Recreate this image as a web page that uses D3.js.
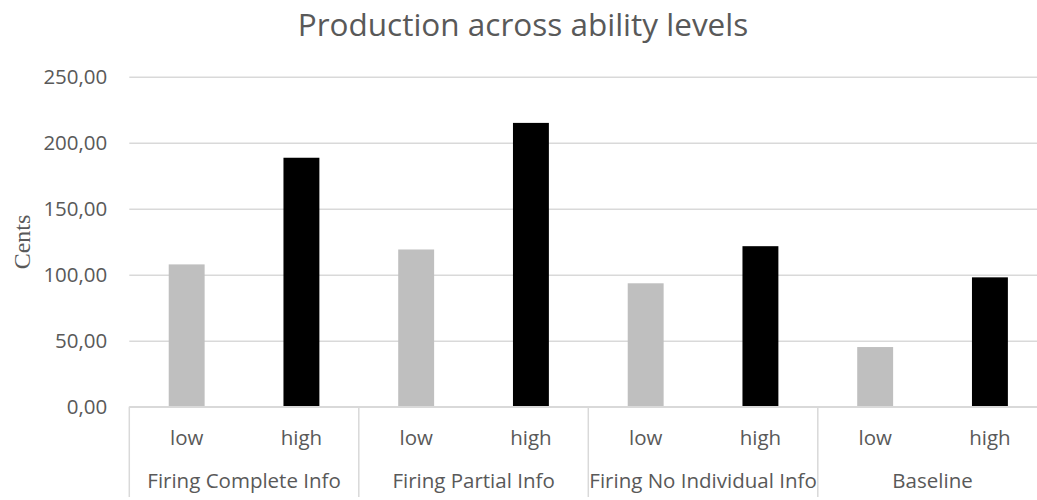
<!DOCTYPE html>
<html>
<head>
<meta charset="utf-8">
<script src="https://cdn.jsdelivr.net/npm/d3@7"></script>
<style>
  html, body { margin: 0; padding: 0; background: #fff; overflow: hidden; }
  svg { display: block; }
  text { font-family: "Open Sans", Lato, sans-serif; fill: #595959; }
</style>
</head>
<body>
<svg id="chart" width="1037" height="500"></svg>
<script>
// Treatments (outer axis level) and ability levels (inner axis level)
const groups = ["Firing Complete Info", "Firing Partial Info", "Firing No Individual Info", "Baseline"];
const levels = ["low", "high"];
// Mean production in cents, one value per treatment
const lowValues  = [107.8, 119.1, 93.5, 45.2];
const highValues = [188.6, 215.0, 121.6, 98.0];
const yTicks = [0, 50, 100, 150, 200, 250];
const title = "Production across ability levels";
const yLabel = "Cents";

const svg = d3.select("#chart");
const plotLeft = 129.3, groupW = 229.5;
const plotTop = 76.7, plotBottom = 406.7, axisBottom = 497;

const x0 = d3.scaleBand().domain(groups).range([plotLeft, plotLeft + groupW * groups.length]).padding(0);
const x1 = d3.scaleBand().domain(levels).range([0, x0.bandwidth()])
  .paddingInner(0.687).paddingOuter(0.3435);
const y = d3.scaleLinear().domain([0, 250]).range([plotBottom, plotTop]);
const fmt = v => d3.format(".2f")(v).replace(".", ",");
const color = { low: "#BFBFBF", high: "#000000" };

// Gridlines and value labels
const yAxis = d3.axisLeft(y).tickValues(yTicks).tickFormat(fmt).tickSize(-(1037 - plotLeft)).tickPadding(22);
const gy = svg.append("g").attr("transform", `translate(${plotLeft},0)`).call(yAxis);
gy.select(".domain").remove();
gy.selectAll(".tick line").attr("stroke", "#D9D9D9").attr("stroke-width", 1.5);
gy.selectAll(".tick text").style("font-size", "20.5px").attr("fill", "#595959")
  .style("font-family", "'Open Sans', sans-serif");

// Bars
const rows = groups.map((g, i) => ({ group: g, values: [
  { level: "low", value: lowValues[i] },
  { level: "high", value: highValues[i] }
]}));
const gg = svg.append("g").selectAll("g").data(rows).join("g")
  .attr("transform", d => `translate(${x0(d.group)},0)`);
gg.selectAll("rect").data(d => d.values).join("rect")
  .attr("x", d => x1(d.level))
  .attr("width", x1.bandwidth())
  .attr("y", d => y(d.value))
  .attr("height", d => y(0) - y(d.value))
  .attr("fill", d => color[d.level]);

// Baseline redrawn over the bars
svg.append("line").attr("x1", plotLeft).attr("x2", 1037).attr("y1", y(0)).attr("y2", y(0))
  .attr("stroke", "#D9D9D9").attr("stroke-width", 1.5);

// Two-level category axis
const inner = d3.axisBottom(x1).tickSize(0).tickPadding(0);
gg.append("g").attr("transform", `translate(0,${plotBottom})`).call(inner)
  .call(g => g.select(".domain").remove())
  .selectAll("text").attr("dy", null).attr("y", 38).style("font-size", "20.5px")
  .style("font-family", "'Open Sans', sans-serif").attr("fill", "#595959");

gg.append("text").attr("x", x0.bandwidth() / 2).attr("y", 488)
  .attr("text-anchor", "middle").style("font-size", "20.5px")
  .text(d => d.group);

const seps = groups.map(g => x0(g));
svg.append("g").selectAll("line").data(seps).join("line")
  .attr("x1", d => d).attr("x2", d => d).attr("y1", plotBottom).attr("y2", axisBottom)
  .attr("stroke", "#D9D9D9").attr("stroke-width", 1.5);

// Title
svg.append("text").attr("x", 523).attr("y", 36).attr("text-anchor", "middle")
  .style("font-size", "31.5px").text(title);

// Axis title
svg.append("text").attr("transform", "translate(30,242) rotate(-90)")
  .attr("text-anchor", "middle")
  .style("font-family", "'Liberation Serif', 'Times New Roman', serif")
  .style("font-size", "24px").text(yLabel);
</script>
</body>
</html>
